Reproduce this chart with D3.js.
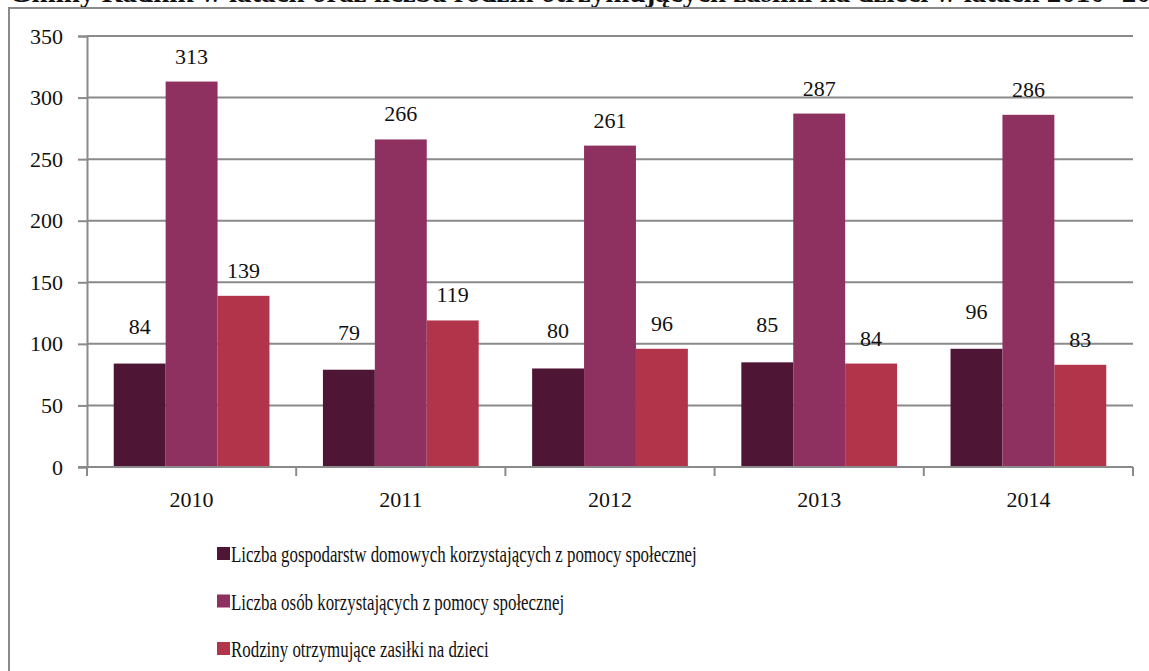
<!DOCTYPE html>
<html lang="pl">
  <head>
    <meta charset="UTF-8" />
    <title>Pomoc społeczna 2010-2014</title>
    <script src="https://d3js.org/d3.v7.min.js"></script>
    <style>
      body {
        margin: 0;
        padding: 0;
        background: #fff;
        overflow: hidden;
      }
      svg {
        display: block;
        font-family: "Liberation Serif", "DejaVu Serif", serif;
      }
    </style>
  </head>
  <body>
    <svg width="1149" height="671"></svg>
    <script>
      // dane
      const years = ["2010", "2011", "2012", "2013", "2014"];
      const gospodarstwa = [84, 79, 80, 85, 96];
      const osoby = [313, 266, 261, 287, 286];
      const rodziny = [139, 119, 96, 84, 83];
      const seriesNames = [
        "Liczba gospodarstw domowych korzystających z pomocy społecznej",
        "Liczba osób korzystających z pomocy społecznej",
        "Rodziny otrzymujące zasiłki na dzieci",
      ];
      const yTicks = [0, 50, 100, 150, 200, 250, 300, 350];
      const colors = ["#4e1535", "#8e3161", "#b1344b"];

      const series = [gospodarstwa, osoby, rodziny];
      // odstęp etykiety nad słupkiem (ciemne etykiety wyżej, jak w oryginale)
      const labelLift = [38, 26, 26];

      const svg = d3.select("svg");

      // ucięty tytuł u góry
      svg
        .append("text")
        .attr("x", 9)
        .attr("y", 2)
        .attr("font-size", 29)
        .attr("font-weight", "bold")
        .attr("fill", "#111")
        .text(
          "Gminy Radnik w latach oraz liczba rodzin otrzymujących zasiłki na dzieci w latach 2010- 2013"
        );

      // ramka
      svg
        .append("rect")
        .attr("x", 9)
        .attr("y", 8)
        .attr("width", 1200)
        .attr("height", 700)
        .attr("fill", "none")
        .attr("stroke", "#8a8a8a")
        .attr("stroke-width", 2);

      const plotLeft = 87,
        plotRight = 1133,
        plotTop = 36,
        plotBottom = 467;

      const x = d3.scaleBand().domain(years).range([plotLeft, plotRight]);
      const x1 = d3
        .scaleBand()
        .domain(d3.range(series.length))
        .range([0, x.bandwidth()])
        .paddingOuter(0.515)
        .paddingInner(0);
      const y = d3.scaleLinear().domain([0, 350]).range([plotBottom, plotTop]);

      // linie siatki
      svg
        .append("g")
        .selectAll("line")
        .data(yTicks.filter((d) => d > 0))
        .enter()
        .append("line")
        .attr("x1", plotLeft)
        .attr("x2", plotRight)
        .attr("y1", (d) => y(d))
        .attr("y2", (d) => y(d))
        .attr("stroke", "#8a8a8a")
        .attr("stroke-width", 2);

      // słupki
      series.forEach((vals, si) => {
        svg
          .append("g")
          .selectAll("rect")
          .data(vals)
          .enter()
          .append("rect")
          .attr("x", (d, i) => x(years[i]) + x1(si))
          .attr("y", (d) => y(d))
          .attr("width", x1.bandwidth())
          .attr("height", (d) => y(0) - y(d))
          .attr("fill", colors[si]);

        svg
          .append("g")
          .selectAll("text")
          .data(vals)
          .enter()
          .append("text")
          .attr("x", (d, i) => x(years[i]) + x1(si) + x1.bandwidth() / 2)
          .attr("y", (d) => y(d) - labelLift[si] + 8)
          .attr("text-anchor", "middle")
          .attr("font-size", 22)
          .attr("fill", "#111")
          .text((d) => d);
      });

      // oś Y
      const yAxis = d3
        .axisLeft(y)
        .tickValues(yTicks)
        .tickSize(9)
        .tickPadding(15);
      const gy = svg
        .append("g")
        .attr("transform", `translate(${plotLeft},0)`)
        .call(yAxis);
      gy.select(".domain").attr("stroke", "#8a8a8a").attr("stroke-width", 2);
      gy.selectAll(".tick line").attr("stroke", "#8a8a8a").attr("stroke-width", 2);
      gy.selectAll(".tick text")
        .attr("font-size", 22)
        .attr("font-family", "Liberation Serif, serif")
        .attr("fill", "#111");

      // oś X
      const gx = svg.append("g").attr("transform", `translate(0,${plotBottom})`);
      gx.append("line")
        .attr("x1", plotLeft - 9)
        .attr("x2", plotRight)
        .attr("stroke", "#8a8a8a")
        .attr("stroke-width", 2);
      gx.selectAll(".sep")
        .data(years.map((d) => x(d)).concat([plotRight]))
        .enter()
        .append("line")
        .attr("class", "sep")
        .attr("x1", (d) => d)
        .attr("x2", (d) => d)
        .attr("y1", 0)
        .attr("y2", 9)
        .attr("stroke", "#8a8a8a")
        .attr("stroke-width", 2);
      gx.selectAll(".lbl")
        .data(years)
        .enter()
        .append("text")
        .attr("class", "lbl")
        .attr("x", (d) => x(d) + x.bandwidth() / 2)
        .attr("y", 40)
        .attr("text-anchor", "middle")
        .attr("font-size", 22)
        .attr("fill", "#111")
        .text((d) => d);

      // legenda
      const legend = svg
        .append("g")
        .selectAll("g")
        .data(seriesNames)
        .enter()
        .append("g")
        .attr("transform", (d, i) => `translate(217,${553 + i * 47.5})`);
      legend
        .append("rect")
        .attr("x", 0)
        .attr("y", -6)
        .attr("width", 13)
        .attr("height", 13)
        .attr("fill", (d, i) => colors[i]);
      legend
        .append("text")
        .attr("x", 14)
        .attr("y", 9)
        .attr("font-size", 22.5)
        .attr("fill", "#111")
        .text((d) => d)
        .each(function () {
          // oryginalny krój (Garamond) jest węższy
          const w = this.getComputedTextLength();
          d3.select(this)
            .attr("textLength", w * 0.75)
            .attr("lengthAdjust", "spacingAndGlyphs");
        });
    </script>
  </body>
</html>
